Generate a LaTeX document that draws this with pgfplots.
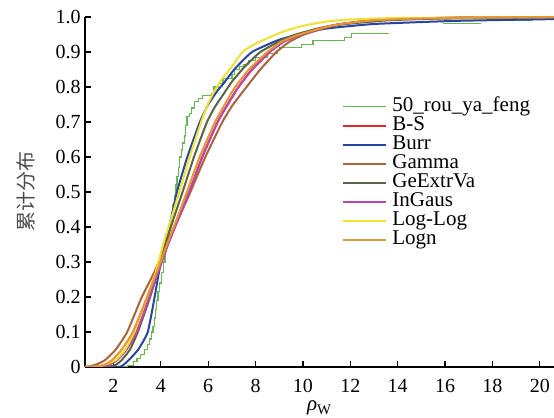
\documentclass[border=0pt]{standalone}
\usepackage{pgfplots}
\pgfplotsset{compat=1.18}
\usepackage{fontspec}
\setmainfont{Liberation Serif}
\newfontfamily\cjk{Noto Sans CJK SC}
\definecolor{cgreen}{RGB}{105,182,85}
\definecolor{cred}{RGB}{230,40,40}
\definecolor{cblue}{RGB}{40,70,160}
\definecolor{cbrown}{RGB}{170,100,60}
\definecolor{colive}{RGB}{90,100,70}
\definecolor{cmag}{RGB}{190,70,170}
\definecolor{cyellow}{RGB}{240,225,50}
\definecolor{corange}{RGB}{230,150,50}
\begin{document}
\begin{tikzpicture}
\begin{axis}[
  scale only axis, width=234.5pt, height=175pt,
  xmin=0.8, xmax=20.6, ymin=0, ymax=1,
  axis lines=left, axis line style={-, line width=0.6pt},
  tick align=inside, major tick length=3pt,
  tick style={black, line width=0.6pt},
  xtick={2,4,6,8,10,12,14,16,18,20},
  ytick={0,0.1,0.2,0.3,0.4,0.5,0.6,0.7,0.8,0.9,1},
  yticklabels={0,0.1,0.2,0.3,0.4,0.5,0.6,0.7,0.8,0.9,1.0},
  /pgf/number format/assume math mode=true,
  tick label style={font=\fontsize{10}{12}\selectfont},
  xticklabel style={yshift=-2.4pt},
  yticklabel style={xshift=1.3pt},
  xlabel={\fontsize{10.5}{12}\selectfont\textit{ρ}\textsubscript{W}},
  every axis x label/.style={at={(rel axis cs:0.5,0)}, anchor=base, yshift=-22pt},
  ylabel={\cjk\fontsize{10}{12}\selectfont 累计分布},
  every axis y label/.style={at={(rel axis cs:-0.1266,0.5)}, rotate=90, anchor=center, text=black!70},
  legend style={at={(rel axis cs:0.548,0.772)}, anchor=north west, draw=none, fill=none,
    inner sep=0pt, row sep=0pt, column sep=2.5pt,
    font=\fontsize{10.5}{10.5}\selectfont,
    nodes={inner sep=0pt, text height=7pt, text depth=2.55pt}},
  legend image code/.code={\draw[#1] (0pt,0pt) -- (21.5pt,0pt);},
  legend cell align=left,
]
% empirical
\addplot[cgreen, line width=0.65pt, const plot, unbounded coords=jump] coordinates {
(0.8,0) (2.4,0) (2.6,0.005) (2.85,0.015) (3.0,0.025) (3.15,0.035) (3.3,0.05) (3.45,0.065)
(3.53,0.08) (3.6,0.1) (3.67,0.115) (3.72,0.14) (3.77,0.165) (3.81,0.19) (3.88,0.215)
(3.96,0.24) (4.02,0.27) (4.1,0.3) (4.18,0.33) (4.25,0.36) (4.32,0.39) (4.38,0.41)
(4.45,0.44) (4.52,0.465) (4.59,0.49) (4.64,0.52) (4.68,0.545) (4.74,0.57) (4.8,0.6)
(4.87,0.62) (4.93,0.64) (5.01,0.66) (5.05,0.69) (5.1,0.715) (5.2,0.725) (5.3,0.74)
(5.43,0.758) (5.6,0.768) (5.75,0.775) (6.15,0.782) (6.25,0.8) (6.45,0.81) (6.63,0.825)
(7.0,0.835) (7.1,0.85) (7.33,0.858) (7.5,0.865) (7.7,0.875) (8.0,0.885) (8.5,0.895)
(8.9,0.905) (9.02,0.912) (9.93,0.921) (10.42,0.932) (11.76,0.941) (12.04,0.953) (13.63,0.953)
(14.0,nan) (15.9,0.982) (17.5,0.982) (17.6,nan) (18.7,0.991) (19.7,0.991)
};
\addlegendentry{50\_rou\_ya\_feng}
% B-S
\addplot[cred, line width=1pt, smooth, tension=0.3] coordinates {
(0.8,0) (1.5,0.002) (1.8,0.006) (2.15,0.02) (2.55,0.05) (2.98,0.10) (3.52,0.20) (3.88,0.27)
(4.3,0.35) (4.72,0.42) (5.2,0.50) (5.75,0.60) (6.4,0.70) (6.82,0.75) (7.28,0.80) (7.85,0.85)
(8.6,0.90) (9.2,0.93) (9.9,0.95) (11.0,0.972) (11.6,0.98) (12.8,0.99) (14.2,0.995) (17.5,0.999) (20.6,1.0)
};
\addlegendentry{B-S}
% Burr
\addplot[cblue, line width=1pt, smooth, tension=0.3] coordinates {
(0.8,0) (2.2,0) (2.4,0.005) (2.65,0.02) (3.05,0.05) (3.45,0.10) (3.74,0.20) (3.92,0.27)
(4.18,0.35) (4.42,0.42) (4.68,0.50) (5.12,0.60) (5.65,0.70) (6.0,0.75) (6.4,0.79) (6.65,0.81)
(7.1,0.85) (7.85,0.90) (9.0,0.935) (10.0,0.953) (11.0,0.967) (13.0,0.980) (16.5,0.989) (20.6,0.994)
};
\addlegendentry{Burr}
% Gamma
\addplot[cbrown, line width=1pt, smooth, tension=0.3] coordinates {
(0.8,0) (1.0,0.002) (1.3,0.008) (1.65,0.02) (2.1,0.05) (2.58,0.10) (3.2,0.20) (3.72,0.27)
(4.22,0.35) (4.72,0.42) (5.25,0.50) (5.88,0.60) (6.6,0.70) (7.05,0.75) (7.62,0.80) (8.2,0.85)
(8.88,0.90) (9.45,0.93) (10.05,0.95) (11.0,0.97) (11.7,0.98) (13.0,0.99) (14.3,0.995) (17,0.999) (20.6,1.0)
};
\addlegendentry{Gamma}
% GeExtrVa
\addplot[colive, line width=1pt, smooth, tension=0.3] coordinates {
(0.8,0) (1.8,0.001) (2.1,0.006) (2.35,0.02) (2.7,0.05) (3.03,0.10) (3.55,0.20) (3.86,0.27)
(4.2,0.35) (4.52,0.42) (4.92,0.50) (5.4,0.60) (5.95,0.70) (6.3,0.745) (6.6,0.775) (7.0,0.815)
(7.5,0.855) (7.75,0.872) (8.2,0.90) (9.0,0.93) (9.7,0.95) (10.8,0.97) (11.8,0.98) (13.5,0.99)
(15.5,0.995) (20.6,0.999)
};
\addlegendentry{GeExtrVa}
% InGaus
\addplot[cmag, line width=1pt, smooth, tension=0.3] coordinates {
(0.8,0) (1.5,0.002) (1.8,0.006) (2.15,0.02) (2.55,0.05) (2.98,0.10) (3.52,0.20) (3.88,0.27)
(4.3,0.35) (4.72,0.42) (5.2,0.50) (5.75,0.60) (6.4,0.70) (6.82,0.75) (7.28,0.80) (7.85,0.85)
(8.6,0.90) (9.2,0.93) (9.9,0.95) (11.0,0.972) (11.6,0.98) (12.8,0.99) (14.2,0.995) (17.5,0.999) (20.6,1.0)
};
\addlegendentry{InGaus}
% Log-Log
\addplot[cyellow, line width=1pt, smooth, tension=0.3] coordinates {
(0.8,0) (1.3,0.001) (1.7,0.008) (2.1,0.02) (2.5,0.05) (2.88,0.10) (3.42,0.20) (3.78,0.27)
(4.1,0.35) (4.42,0.42) (4.78,0.50) (5.22,0.60) (5.7,0.70) (5.98,0.75) (6.2,0.78) (6.55,0.82)
(6.91,0.85) (7.45,0.90) (7.9,0.92) (8.46,0.938) (9.15,0.958) (10.0,0.975) (11.0,0.987)
(12.0,0.993) (14.0,0.997) (20.6,1.0)
};
\addlegendentry{Log-Log}
% Logn
\addplot[corange, line width=1pt, smooth, tension=0.3] coordinates {
(0.8,0) (1.3,0.002) (1.6,0.006) (1.95,0.02) (2.35,0.05) (2.82,0.10) (3.42,0.20) (3.82,0.27)
(4.26,0.35) (4.66,0.42) (5.1,0.50) (5.64,0.60) (6.29,0.70) (6.7,0.75) (7.14,0.80) (7.72,0.85)
(8.5,0.90) (9.1,0.93) (9.85,0.95) (11.0,0.972) (11.6,0.98) (12.9,0.99) (14.5,0.995) (18,0.999) (20.6,0.9995)
};
\addlegendentry{Logn}
\end{axis}
\pgfresetboundingbox
\path (-42.5pt,-25.5pt) rectangle (234.5pt,183.5pt);
\end{tikzpicture}
\end{document}
